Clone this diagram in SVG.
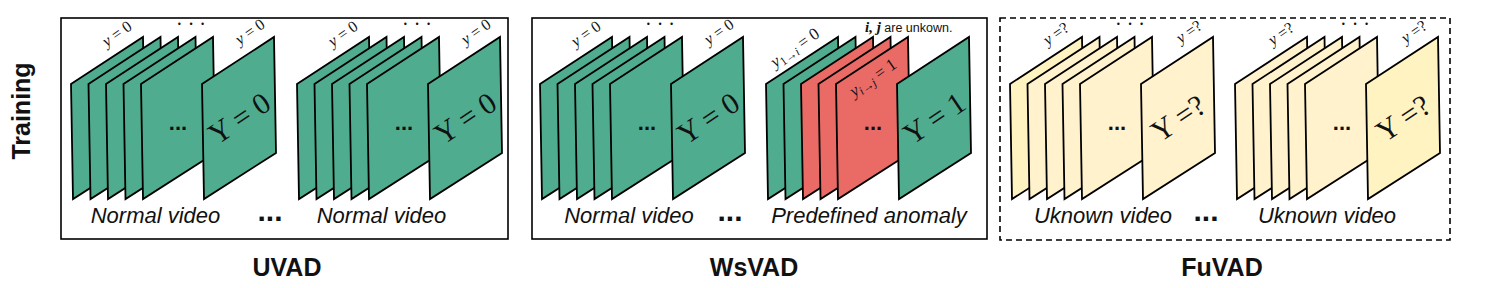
<svg xmlns="http://www.w3.org/2000/svg" xmlns:xlink="http://www.w3.org/1999/xlink" width="1495" height="288" viewBox="0 0 1495 288">
<style>
.g{fill:#50AC8E}
.r{fill:#EA6B66}
.yl{fill:#FFF2CC}
.ys{fill:#FFF3C2}
.fr{stroke:#000;stroke-width:1.8;stroke-linejoin:miter}
.box{fill:none;stroke:#000;stroke-width:1.6}
.dash{stroke-dasharray:6 4}
.m{font-family:"Liberation Serif",serif;fill:#111}
.sm{font-size:16px}
.big{font-size:30px}
.it{font-style:italic}
.cap{font-family:"Liberation Sans",Arial,sans-serif;font-style:italic;font-size:22px;fill:#111;text-anchor:middle}
.dots{font-family:"Liberation Sans",Arial,sans-serif;font-weight:bold;fill:#111;text-anchor:middle}
.title{font-family:"Liberation Sans",Arial,sans-serif;font-weight:bold;font-size:25px;fill:#111;text-anchor:middle}
</style>
<defs>
<path id="fr" class="fr" d="M0,47 L72,0 L74,116 L2,162 Z"/>
</defs>
<rect width="1495" height="288" fill="#fff"/>

<text class="title" transform="translate(30,111) rotate(-90)">Training</text>

<!-- panel boxes -->
<g id="panel-uvad"><rect class="box" x="61" y="18" width="447" height="221"/></g>
<g id="panel-wsvad"><rect class="box" x="532" y="18" width="455" height="221"/></g>
<g id="panel-fuvad"><rect class="box dash" x="1000" y="18" width="450" height="222"/></g>

<!-- UVAD video 1 -->
<g id="uvad-v1">
<use xlink:href="#fr" class="g" x="71" y="37"/><use xlink:href="#fr" class="g" x="88.5" y="37"/><use xlink:href="#fr" class="g" x="106" y="37"/><use xlink:href="#fr" class="g" x="123.5" y="37"/><use xlink:href="#fr" class="g" x="141" y="37"/><use xlink:href="#fr" class="g" x="202" y="37"/>
<text class="m sm" text-anchor="middle" transform="translate(120,38) rotate(-35)"><tspan class="it">y</tspan> = 0</text>
<text class="m sm" text-anchor="middle" transform="translate(253,36) rotate(-35)"><tspan class="it">y</tspan> = 0</text>
<text class="m" font-size="20" text-anchor="middle" x="191" y="31">· · ·</text>
<text class="dots" font-size="22" x="178" y="130">...</text>
<text class="m big" text-anchor="middle" dominant-baseline="central" transform="translate(239,118) rotate(-34)">Y = 0</text>
<text class="cap" x="155.5" y="223">Normal video</text>
</g>
<text class="dots" font-size="30" x="270" y="221">...</text>

<!-- UVAD video 2 -->
<g id="uvad-v2" transform="translate(226,0)">
<use xlink:href="#fr" class="g" x="71" y="37"/><use xlink:href="#fr" class="g" x="88.5" y="37"/><use xlink:href="#fr" class="g" x="106" y="37"/><use xlink:href="#fr" class="g" x="123.5" y="37"/><use xlink:href="#fr" class="g" x="141" y="37"/><use xlink:href="#fr" class="g" x="202" y="37"/>
<text class="m sm" text-anchor="middle" transform="translate(120,38) rotate(-35)"><tspan class="it">y</tspan> = 0</text>
<text class="m sm" text-anchor="middle" transform="translate(253,36) rotate(-35)"><tspan class="it">y</tspan> = 0</text>
<text class="m" font-size="20" text-anchor="middle" x="191" y="31">· · ·</text>
<text class="dots" font-size="22" x="178" y="130">...</text>
<text class="m big" text-anchor="middle" dominant-baseline="central" transform="translate(239,118) rotate(-34)">Y = 0</text>
<text class="cap" x="155.5" y="223">Normal video</text>
</g>

<!-- WsVAD video 1 -->
<g id="wsvad-v1" transform="translate(469,0)">
<use xlink:href="#fr" class="g" x="71" y="37"/><use xlink:href="#fr" class="g" x="88.5" y="37"/><use xlink:href="#fr" class="g" x="106" y="37"/><use xlink:href="#fr" class="g" x="123.5" y="37"/><use xlink:href="#fr" class="g" x="141" y="37"/><use xlink:href="#fr" class="g" x="202" y="37"/>
<text class="m sm" text-anchor="middle" transform="translate(120,38) rotate(-35)"><tspan class="it">y</tspan> = 0</text>
<text class="m sm" text-anchor="middle" transform="translate(253,36) rotate(-35)"><tspan class="it">y</tspan> = 0</text>
<text class="m" font-size="20" text-anchor="middle" x="191" y="31">· · ·</text>
<text class="dots" font-size="22" x="178" y="130">...</text>
<text class="m big" text-anchor="middle" dominant-baseline="central" transform="translate(239,118) rotate(-34)">Y = 0</text>
<text class="cap" x="160" y="223">Normal video</text>
</g>
<text class="dots" font-size="30" x="730" y="221">...</text>

<!-- WsVAD predefined anomaly -->
<g id="wsvad-v2" transform="translate(695,0)">
<use xlink:href="#fr" class="g" x="71" y="37"/><use xlink:href="#fr" class="g" x="88.5" y="37"/><use xlink:href="#fr" class="r" x="106" y="37"/><use xlink:href="#fr" class="r" x="123.5" y="37"/><use xlink:href="#fr" class="r" x="141" y="37"/><use xlink:href="#fr" class="g" x="202" y="37"/>
<text class="m" font-size="17" text-anchor="middle" transform="translate(103,52) rotate(-35)"><tspan class="it">y</tspan><tspan font-size="12" dy="3">1→<tspan class="it">i</tspan></tspan><tspan dy="-3"> = 0</tspan></text>
<text class="m" font-size="17" text-anchor="middle" transform="translate(181,82) rotate(-35)"><tspan class="it">y</tspan><tspan font-size="12" dy="3"><tspan class="it">i</tspan>→<tspan class="it">j</tspan></tspan><tspan dy="-3"> = 1</tspan></text>
<text x="170" y="32" font-size="12.5" fill="#111" font-family="Liberation Sans,Arial,sans-serif"><tspan font-family="Liberation Serif,serif" font-style="italic" font-weight="bold" font-size="15">i, j</tspan> are unkown.</text>
<text class="dots" font-size="22" x="178" y="130">...</text>
<text class="m big" text-anchor="middle" dominant-baseline="central" transform="translate(239,118) rotate(-34)">Y = 1</text>
<text class="cap" x="174" y="223">Predefined anomaly</text>
</g>

<!-- FuVAD video 1 -->
<g id="fuvad-v1" transform="translate(939,0)">
<use xlink:href="#fr" class="ys" x="71" y="37"/><use xlink:href="#fr" class="yl" x="88.5" y="37"/><use xlink:href="#fr" class="yl" x="106" y="37"/><use xlink:href="#fr" class="yl" x="123.5" y="37"/><use xlink:href="#fr" class="yl" x="141" y="37"/><use xlink:href="#fr" class="yl" x="202" y="37"/>
<text class="m sm" text-anchor="middle" transform="translate(120,38) rotate(-35)"><tspan class="it">y</tspan> =?</text>
<text class="m sm" text-anchor="middle" transform="translate(253,36) rotate(-35)"><tspan class="it">y</tspan> =?</text>
<text class="m" font-size="20" text-anchor="middle" x="191" y="31">· · ·</text>
<text class="dots" font-size="22" x="178" y="130">...</text>
<text class="m big" text-anchor="middle" dominant-baseline="central" transform="translate(239,118) rotate(-34)">Y =?</text>
<text class="cap" x="164" y="223">Uknown video</text>
</g>
<text class="dots" font-size="30" x="1206" y="221">...</text>

<!-- FuVAD video 2 -->
<g id="fuvad-v2" transform="translate(1164,0)">
<use xlink:href="#fr" class="yl" x="71" y="37"/><use xlink:href="#fr" class="yl" x="88.5" y="37"/><use xlink:href="#fr" class="yl" x="106" y="37"/><use xlink:href="#fr" class="yl" x="123.5" y="37"/><use xlink:href="#fr" class="yl" x="141" y="37"/><use xlink:href="#fr" class="ys" x="202" y="37"/>
<text class="m sm" text-anchor="middle" transform="translate(120,38) rotate(-35)"><tspan class="it">y</tspan> =?</text>
<text class="m sm" text-anchor="middle" transform="translate(253,36) rotate(-35)"><tspan class="it">y</tspan> =?</text>
<text class="m" font-size="20" text-anchor="middle" x="191" y="31">· · ·</text>
<text class="dots" font-size="22" x="178" y="130">...</text>
<text class="m big" text-anchor="middle" dominant-baseline="central" transform="translate(239,118) rotate(-34)">Y =?</text>
<text class="cap" x="163" y="223">Uknown video</text>
</g>

<g id="labels">
<text class="title" x="287" y="276">UVAD</text>
<text class="title" x="754" y="276">WsVAD</text>
<text class="title" x="1222" y="276">FuVAD</text>
</g>
<g id="connectors"/>
</svg>
